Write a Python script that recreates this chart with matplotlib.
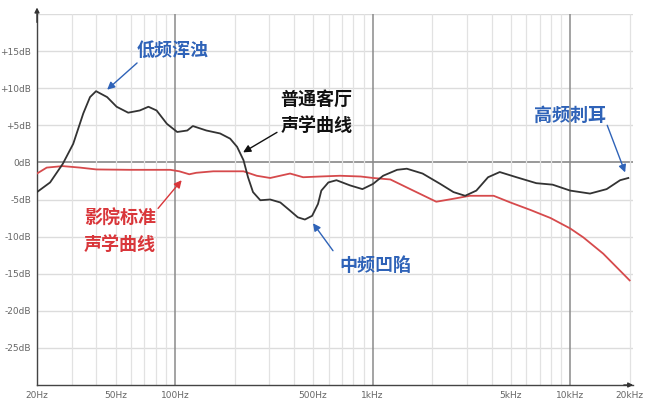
import matplotlib
matplotlib.use('Agg')
import matplotlib.pyplot as plt
import numpy as np

plt.rcParams['font.family'] = ['Noto Sans CJK SC', 'DejaVu Sans']

# living room curve (Hz, dB)
room_f = [20, 23.3, 27, 30.5, 34.3, 37.1, 39.8, 45.3, 50.6, 57.9, 66.3, 73.3, 80.6,
          90.9, 102.5, 115.3, 123, 144, 169, 190, 206, 222, 234, 248, 270, 303, 341,
          382, 418, 454, 494, 529, 550, 597, 656, 769, 888, 1005, 1130, 1330, 1490,
          1790, 2200, 2565, 2940, 3350, 3840, 4400, 5350, 6740, 8150, 10000, 12600,
          15300, 17900, 19700]
room_db = [-4.0, -2.7, -0.2, 2.5, 6.6, 8.8, 9.6, 8.8, 7.5, 6.7, 7.0, 7.5, 7.0, 5.2,
           4.1, 4.3, 4.9, 4.3, 3.9, 3.2, 2.1, 0.3, -2.0, -4.0, -5.1, -5.0, -5.4, -6.5,
           -7.4, -7.7, -7.2, -5.6, -3.8, -2.7, -2.4, -3.1, -3.6, -2.9, -1.8, -1.0,
           -0.85, -1.5, -2.9, -4.0, -4.5, -3.8, -2.0, -1.3, -2.0, -2.8, -3.0, -3.8,
           -4.2, -3.6, -2.4, -2.1]

# cinema standard curve (Hz, dB)
cinema_f = [20, 22.4, 27, 33, 40, 59, 94.6, 105, 118, 128, 156, 222, 259, 303, 382,
            445, 542, 684, 870, 1005, 1230, 1550, 2100, 2565, 3100, 4100, 4980, 6280,
            7960, 10000, 11650, 14700, 20000]
cinema_db = [-1.5, -0.7, -0.5, -0.7, -0.95, -1.0, -1.0, -1.2, -1.6, -1.4, -1.2, -1.2,
             -1.8, -2.1, -1.5, -2.0, -1.9, -1.8, -1.9, -2.1, -2.3, -3.6, -5.3, -4.9,
             -4.5, -4.5, -5.4, -6.4, -7.5, -8.9, -10.1, -12.3, -15.9]

y_ticks = [15, 10, 5, 0, -5, -10, -15, -20, -25]
y_labels = ['+15dB', '+10dB', '+5dB', '0dB', '-5dB', '-10dB', '-15dB', '-20dB', '-25dB']
x_ticks = [20, 50, 100, 500, 1000, 5000, 10000, 20000]
x_labels = ['20Hz', '50Hz', '100Hz', '500Hz', '1kHz', '5kHz', '10kHz', '20kHz']

fig = plt.figure(figsize=(6.56, 4.16), dpi=100)
ax = fig.add_axes([37/656, 1 - 385/416, (633 - 37)/656, (385 - 14)/416])
ax.set_xscale('log')
ax.set_xlim(20, 20800)
ax.set_ylim(-30, 20)

# grid
for yv in range(-25, 25, 5):
    ax.axhline(yv, color='#888888' if yv == 0 else '#dcdcdc', lw=1.2 if yv == 0 else 1.0, zorder=1)
minor = [m * d for d in [10, 100, 1000, 10000] for m in range(2, 10)]
minor = [v for v in minor if 20 <= v <= 20000]
for xv in minor:
    ax.axvline(xv, color='#e2e2e2', lw=0.9, zorder=1)
for xv in [100, 1000, 10000]:
    ax.axvline(xv, color='#8a8a8a', lw=1.1, zorder=1)

ax.plot(cinema_f, cinema_db, color='#d64a4c', lw=1.3, zorder=3, solid_joinstyle='round')
ax.plot(room_f, room_db, color='#333333', lw=1.3, zorder=4, solid_joinstyle='round')

ax.set_xticks(x_ticks, x_labels)
ax.set_xticks([], minor=True)
ax.set_yticks(y_ticks, y_labels)
ax.tick_params(length=0, labelsize=6.5, colors='#666666', pad=4)
for lab in ax.get_xticklabels() + ax.get_yticklabels():
    lab.set_fontfamily(['DejaVu Sans'])

for s in ['top', 'right']:
    ax.spines[s].set_visible(False)
for s in ['left', 'bottom']:
    ax.spines[s].set_color('#444444')
    ax.spines[s].set_linewidth(1.0)

# axis arrows
ax.annotate('', xy=(0, 1.025), xytext=(0, 0.97), xycoords='axes fraction',
            arrowprops=dict(arrowstyle='-|>', color='#333333', lw=1.0, mutation_scale=7),
            annotation_clip=False)
ax.annotate('', xy=(1.005, 0), xytext=(0.98, 0), xycoords='axes fraction',
            arrowprops=dict(arrowstyle='-|>', color='#333333', lw=1.0, mutation_scale=7),
            annotation_clip=False)

blue = '#2f63b8'
red = '#d9363a'
fs = 13

def label(txt, pos, color):
    ax.text(pos[0], pos[1], txt, color=color, fontsize=fs, fontweight='bold',
            ha='center', va='center', linespacing=1.45)

def arrow(tail, tip, color):
    ax.annotate('', xy=tip, xytext=tail,
                arrowprops=dict(arrowstyle='-|>', color=color, lw=1.0,
                                mutation_scale=11, shrinkA=0, shrinkB=0))

label('低频浑浊', (97.6, 15.1), blue)
arrow((64.2, 13.4), (45.3, 9.8), blue)
label('普通客厅\n声学曲线', (518, 6.75), '#111111')
arrow((328, 4.05), (221, 1.35), '#111111')
label('影院标准\n声学曲线', (52.6, -9.3), red)
arrow((82, -6.2), (108, -2.4), red)
label('中频凹陷', (1028, -13.9), blue)
arrow((630, -11.9), (499, -8.2), blue)
label('高频刺耳', (10000, 6.35), blue)
arrow((15400, 5.0), (18980, -1.35), blue)

fig.savefig('out.png', dpi=100, facecolor='white')
